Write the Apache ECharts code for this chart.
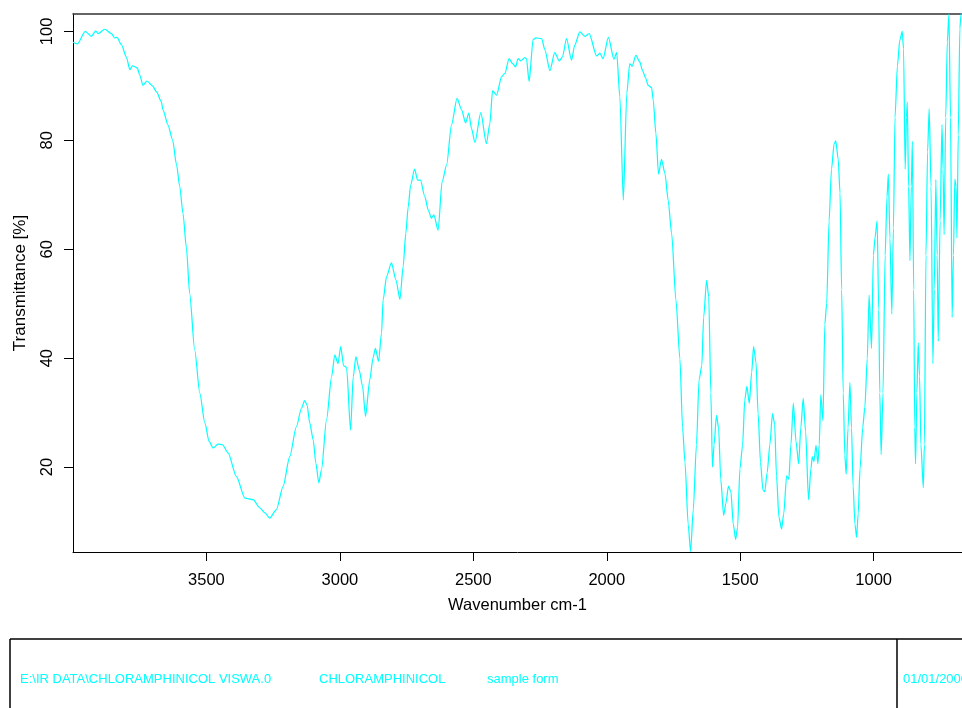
<!DOCTYPE html>
<html>
<head>
<meta charset="utf-8">
<script src="https://cdn.jsdelivr.net/npm/echarts@6/dist/echarts.min.js"></script>
<style>
  html, body { margin: 0; padding: 0; background: #fff; }
  #chart { width: 962px; height: 708px; }
</style>
</head>
<body>
<div id="chart"></div>
<script>
// Wavenumber (cm-1) and transmittance (%)
const wavenumbers = [
  4000, 3984, 3954, 3931, 3915, 3906, 3881, 3856, 3844, 3835, 3819, 3800, 3787, 3777, 3759, 3750,
  3738, 3723, 3702, 3687, 3669, 3663, 3644, 3627, 3612, 3600, 3588, 3575, 3563, 3544, 3525, 3506,
  3490, 3475, 3457, 3440, 3419, 3388, 3356, 3325, 3300, 3281, 3263, 3238, 3213, 3188, 3163, 3144,
  3132, 3123, 3113, 3100, 3090, 3079, 3069, 3050, 3031, 3019, 3007, 2997, 2986, 2975, 2960, 2950,
  2940, 2928, 2915, 2904, 2888, 2876, 2867, 2855, 2844, 2838, 2825, 2807, 2790, 2775, 2763, 2753,
  2744, 2735, 2720, 2709, 2698, 2682, 2669, 2657, 2648, 2632, 2617, 2600, 2582, 2561, 2544, 2529,
  2517, 2507, 2494, 2472, 2451, 2438, 2428, 2413, 2394, 2382, 2366, 2353, 2342, 2332, 2322, 2307,
  2301, 2291, 2276, 2266, 2244, 2232, 2213, 2195, 2178, 2166, 2151, 2132, 2120, 2101, 2082, 2066,
  2038, 2026, 2014, 1994, 1973, 1963, 1951, 1938, 1925, 1914, 1905, 1891, 1876, 1866, 1854, 1845,
  1832, 1826, 1816, 1806, 1795, 1782, 1770, 1757, 1741, 1726, 1716, 1707, 1695, 1686, 1676, 1664,
  1654, 1644, 1637, 1626, 1618, 1610, 1604, 1598, 1589, 1581, 1573, 1562, 1554, 1544, 1535, 1526,
  1517, 1510, 1501, 1491, 1483, 1475, 1466, 1457, 1450, 1441, 1433, 1424, 1415, 1408, 1399, 1389,
  1379, 1371, 1364, 1355, 1345, 1337, 1326, 1318, 1310, 1301, 1291, 1281, 1273, 1264, 1255, 1244,
  1235, 1230, 1224, 1216, 1209, 1204, 1198, 1190, 1183, 1176, 1167, 1158, 1148, 1142, 1133, 1126,
  1120, 1114, 1108, 1103, 1096, 1089, 1083, 1077, 1070, 1064, 1058, 1051, 1041, 1033, 1024, 1017,
  1008, 1001, 995, 987, 981, 977, 972, 965, 957, 950, 945, 939, 932, 926, 920, 911,
  902, 893, 888, 882, 877, 874, 869, 864, 859, 855, 850, 846, 843, 838, 833, 828,
  823, 814, 810, 804, 798, 792, 785, 778, 773, 767, 762, 758, 751, 744, 740, 736,
  730, 724, 718, 712, 706, 701, 696, 691, 688, 683, 677, 673, 665
];
const transmittance = [
  98.0, 97.7, 100.0, 99.1, 100.1, 99.6, 100.4, 99.6, 98.8, 98.9, 97.6, 95.3, 93.0, 93.7, 93.3, 92.0,
  90.1, 90.9, 90.0, 88.9, 87.1, 85.6, 82.8, 80.1, 75.5, 71.5, 66.6, 60.2, 51.9, 41.5, 33.6, 28.1,
  24.7, 23.5, 24.2, 24.1, 22.6, 18.3, 14.3, 14.0, 12.5, 11.6, 10.6, 12.2, 16.4, 21.9, 27.4, 30.8,
  32.2, 31.4, 28.1, 25.0, 20.7, 17.1, 19.5, 28.7, 36.6, 40.6, 39.0, 42.1, 38.6, 38.3, 26.8, 36.6,
  40.3, 37.9, 34.8, 29.3, 36.0, 40.0, 41.8, 39.4, 44.6, 50.7, 55.0, 57.5, 54.4, 50.8, 56.8, 62.9,
  67.8, 71.8, 74.7, 72.7, 72.7, 69.7, 67.2, 65.7, 66.3, 63.5, 72.4, 75.5, 82.8, 87.7, 85.6, 83.2,
  85.0, 82.2, 79.6, 85.1, 79.4, 83.1, 89.1, 88.3, 91.7, 92.3, 95.0, 94.1, 93.5, 95.0, 94.6, 95.2,
  95.0, 90.8, 98.5, 98.8, 98.7, 96.6, 92.8, 96.1, 94.6, 95.3, 98.7, 94.7, 97.5, 99.9, 99.1, 99.6,
  95.5, 96.0, 95.0, 98.9, 94.9, 96.1, 88.0, 69.0, 88.6, 94.1, 93.6, 95.6, 94.4, 92.8, 91.4, 90.1,
  89.7, 87.4, 81.3, 73.8, 76.5, 73.9, 69.0, 62.9, 50.7, 39.9, 27.2, 20.9, 9.5, 4.5, 12.1, 24.1,
  36.1, 38.6, 47.5, 54.3, 51.3, 33.6, 20.0, 24.1, 29.5, 27.2, 17.8, 11.1, 13.3, 16.5, 15.5, 9.5,
  6.7, 8.9, 19.7, 24.1, 32.3, 34.8, 31.7, 37.4, 42.1, 39.3, 29.8, 20.9, 15.8, 15.5, 19.0, 24.1,
  29.8, 27.9, 18.4, 10.8, 8.6, 11.4, 18.4, 17.8, 24.1, 31.7, 24.7, 20.6, 27.2, 32.6, 26.5, 14.0,
  19.7, 21.9, 21.0, 24.0, 20.6, 24.1, 33.3, 28.5, 46.2, 50.0, 65.2, 74.7, 79.4, 79.9, 76.6, 70.3,
  52.6, 33.6, 22.2, 18.7, 27.2, 35.5, 27.2, 16.5, 9.5, 7.1, 11.4, 19.7, 27.2, 31.0, 39.9, 51.6,
  41.8, 58.9, 62.1, 65.2, 48.8, 33.6, 22.3, 33.6, 58.9, 69.6, 73.8, 62.1, 48.1, 63.9, 84.2, 93.7,
  98.4, 100.0, 96.8, 74.7, 84.2, 87.0, 71.5, 57.9, 71.5, 79.8, 52.6, 27.2, 20.6, 33.6, 42.8, 36.7,
  24.1, 16.2, 24.1, 58.9, 77.9, 85.8, 71.5, 39.0, 52.6, 72.8, 58.9, 43.1, 65.2, 82.9, 74.7, 62.7,
  84.2, 98.1, 103.2, 84.2, 47.5, 58.9, 72.9, 71.5, 62.1, 81.0, 100.6, 103.0, 106.0
];
const xTickLabels = [3500, 3000, 2500, 2000, 1500, 1000];
const yTickLabels = [20, 40, 60, 80, 100];
const footerTexts = ['E:\\IR DATA\\CHLORAMPHINICOL VISWA.0', 'CHLORAMPHINICOL', 'sample form', '01/01/2000'];

const seriesData = wavenumbers.map((w, i) => [w, transmittance[i]]);
const FONT = '"Liberation Sans", Arial, Helvetica, sans-serif';
const CYAN = '#00FFFF';

const chart = echarts.init(document.getElementById('chart'), null, { renderer: 'canvas' });
chart.setOption({
  backgroundColor: '#ffffff',
  animation: false,
  grid: { left: 73, right: 0, top: 14, bottom: 156, containLabel: false },
  xAxis: [{
    type: 'value',
    inverse: true,
    min: 669,
    max: 4000,
    position: 'bottom',
    name: 'Wavenumber cm-1',
    nameLocation: 'middle',
    nameGap: 45,
    nameTextStyle: { fontFamily: FONT, fontSize: 16.5, color: '#000' },
    axisLine: { show: true, lineStyle: { color: '#000', width: 1 } },
    axisTick: { show: true, length: 9, customValues: xTickLabels, lineStyle: { color: '#000' } },
    axisLabel: { customValues: xTickLabels, margin: 20, fontFamily: FONT, fontSize: 16.5, color: '#000',
                 formatter: v => String(v) },
    splitLine: { show: false }
  }, {
    type: 'value',
    inverse: true,
    min: 669,
    max: 4000,
    position: 'top',
    axisLine: { show: true, onZero: false, lineStyle: { color: '#333', width: 1.5 } },
    axisTick: { show: false },
    axisLabel: { show: false },
    splitLine: { show: false }
  }],
  yAxis: {
    type: 'value',
    min: 4.4,
    max: 103.2,
    name: 'Transmittance [%]',
    nameLocation: 'middle',
    nameGap: 44,
    nameTextStyle: { fontFamily: FONT, fontSize: 17, color: '#000' },
    axisLine: { show: true, lineStyle: { color: '#000', width: 1 } },
    axisTick: { show: true, length: 9, customValues: yTickLabels, lineStyle: { color: '#000' } },
    axisLabel: { customValues: yTickLabels, rotate: 90, margin: 17, fontFamily: FONT, fontSize: 16.5, color: '#000',
                 formatter: v => String(v) },
    splitLine: { show: false }
  },
  series: [{
    type: 'line',
    data: seriesData,
    xAxisIndex: 0,
    showSymbol: false,
    smooth: 0.25,
    smoothMonotone: 'x',
    clip: true,
    lineStyle: { color: CYAN, width: 1.2 },
    itemStyle: { color: CYAN }
  }],
  graphic: [
    { type: 'line', shape: { x1: 10, y1: 639, x2: 962, y2: 639 }, style: { stroke: '#000', lineWidth: 1.5 } },
    { type: 'line', shape: { x1: 10, y1: 639, x2: 10, y2: 708 }, style: { stroke: '#000', lineWidth: 1.5 } },
    { type: 'line', shape: { x1: 897, y1: 639, x2: 897, y2: 708 }, style: { stroke: '#000', lineWidth: 1.5 } },
    { type: 'text', x: 20, y: 679, style: { text: footerTexts[0], fill: CYAN, font: '13px ' + FONT, textVerticalAlign: 'middle' } },
    { type: 'text', x: 319, y: 679, style: { text: footerTexts[1], fill: CYAN, font: '13px ' + FONT, textVerticalAlign: 'middle' } },
    { type: 'text', x: 487, y: 679, style: { text: footerTexts[2], fill: CYAN, font: '13px ' + FONT, textVerticalAlign: 'middle' } },
    { type: 'text', x: 903, y: 679, style: { text: footerTexts[3], fill: CYAN, font: '13px ' + FONT, textVerticalAlign: 'middle' } }
  ]
});
</script>
</body>
</html>
